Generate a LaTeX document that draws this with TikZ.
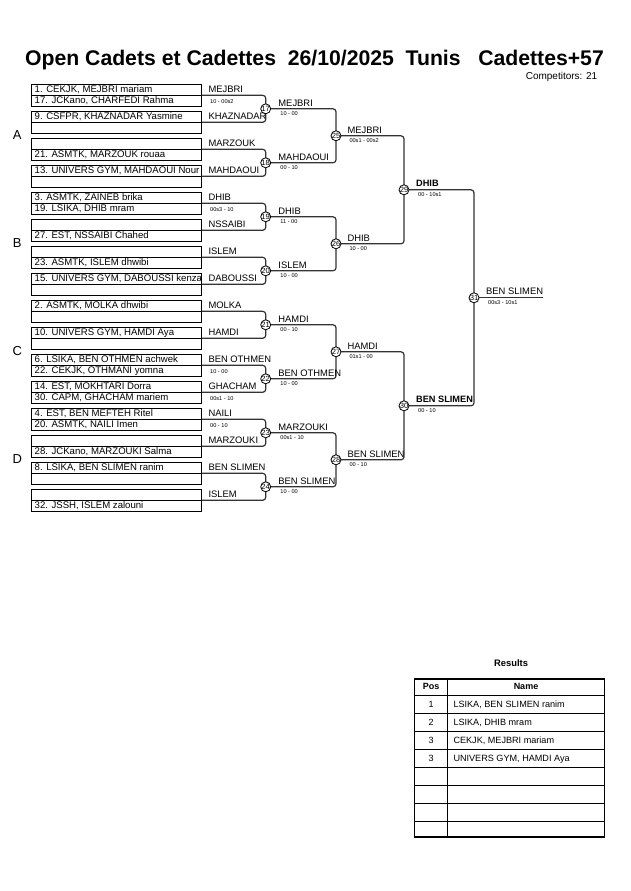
\documentclass[tikz,border=0pt]{standalone}
\usepackage{fontspec}
\setmainfont{Liberation Sans}
\begin{document}
\begin{tikzpicture}[x=1pt,y=-1pt]
\tikzset{
  slotbox/.style={draw=black, line width=0.9pt, minimum width=170pt, minimum height=22pt, inner sep=0pt, outer sep=0pt},
  divider/.style={draw=black, line width=0.9pt},
  brk/.style={draw=black!80, line width=1.2pt, rounded corners=3pt},
  circ/.style={circle, draw=black, fill=white, line width=0.8pt, minimum size=9.6pt, inner sep=0pt, font=\fontsize{7.6}{7.6}\selectfont},
  ptxt/.style={anchor=base west, inner sep=0pt, font=\fontsize{9.6}{10}\selectfont},
  wtxt/.style={anchor=base west, inner sep=0pt, font=\fontsize{9.4}{10}\selectfont},
  wbold/.style={anchor=base west, inner sep=0pt, font=\bfseries\fontsize{9.2}{10}\selectfont},
  stxt/.style={anchor=base west, inner sep=0pt, font=\fontsize{5.6}{6}\selectfont},
  pool/.style={anchor=base, inner sep=0pt, font=\fontsize{13}{14}\selectfont},
  tbl/.style={draw=black, line width=0.8pt},
  tbltxt/.style={anchor=base, inner sep=0pt, font=\fontsize{9}{10}\selectfont},
  tblname/.style={anchor=base west, inner sep=0pt, font=\fontsize{9.1}{10}\selectfont},
  tblhead/.style={anchor=base, inner sep=0pt, font=\bfseries\fontsize{9}{10}\selectfont},
}
\useasboundingbox (0,0) rectangle (630,891);

% title
\node[anchor=base, inner sep=0pt, font=\bfseries\fontsize{21.2}{24}\selectfont] (title) at (314.5,65.7)
  {Open Cadets et Cadettes\ \ 26/10/2025\ \ Tunis\ \ \ Cadettes+57};
\node[anchor=base east, inner sep=0pt, font=\fontsize{10}{11}\selectfont] (comp) at (597.5,79.3) {Competitors: 21};

% pool letters
\foreach \p/\L in {0/A,1/B,2/C,3/D}{
  \node[pool] (pool\L) at (17.3,{139.8+108*\p}) {\L};
}

% first-round slots
\foreach \k/\ra/\rb/\w/\sc in {
  1/{1. CEKJK, MEJBRI mariam}/{17. JCKano, CHARFEDI Rahma}/MEJBRI/{10 - 00s2},
  2/{9. CSFPR, KHAZNADAR Yasmine}/{}/KHAZNADAR/{},
  3/{}/{21. ASMTK, MARZOUK rouaa}/MARZOUK/{},
  4/{13. UNIVERS GYM, MAHDAOUI Nour}/{}/MAHDAOUI/{},
  5/{3. ASMTK, ZAINEB brika}/{19. LSIKA, DHIB mram}/DHIB/{00s3 - 10},
  6/{}/{27. EST, NSSAIBI Chahed}/NSSAIBI/{},
  7/{}/{23. ASMTK, ISLEM dhwibi}/ISLEM/{},
  8/{15. UNIVERS GYM, DABOUSSI kenza}/{}/DABOUSSI/{},
  9/{2. ASMTK, MOLKA dhwibi}/{}/MOLKA/{},
  10/{10. UNIVERS GYM, HAMDI Aya}/{}/HAMDI/{},
  11/{6. LSIKA, BEN OTHMEN achwek}/{22. CEKJK, OTHMANI yomna}/BEN OTHMEN/{10 - 00},
  12/{14. EST, MOKHTARI Dorra}/{30. CAPM, GHACHAM mariem}/GHACHAM/{00s1 - 10},
  13/{4. EST, BEN MEFTEH Ritel}/{20. ASMTK, NAILI Imen}/NAILI/{00 - 10},
  14/{}/{28. JCKano, MARZOUKI Salma}/MARZOUKI/{},
  15/{8. LSIKA, BEN SLIMEN ranim}/{}/BEN SLIMEN/{},
  16/{}/{32. JSSH, ISLEM zalouni}/ISLEM/{}}{
  \pgfmathsetmacro{\t}{84.3+27*(\k-1)}
  \node[slotbox] (slot\k) at (116.7,{\t+11}) {};
  \draw[divider] (slot\k.west) -- (slot\k.east);
  \node[ptxt] (pa\k) at (34.5,{\t+8.6}) {\ra};
  \node[ptxt] (pb\k) at (34.5,{\t+19.6}) {\rb};
  \node[wtxt] (w\k) at (208.3,{\t+8.6}) {\w};
  \node[stxt] (s\k) at (210,{\t+19.4}) {\sc};
}

% match coordinates
\foreach \j in {1,...,8}{
  \pgfmathtruncatemacro{\n}{16+\j}
  \coordinate (c\n) at (265.7,{108.8+54*(\j-1)});
}
\foreach \j in {1,...,4}{
  \pgfmathtruncatemacro{\n}{24+\j}
  \coordinate (c\n) at (336,{135.8+108*(\j-1)});
}
\coordinate (c29) at (404,189.8);
\coordinate (c30) at (404,405.8);
\coordinate (c31) at (474,297.8);
\coordinate (fin) at (542.7,297.8);

% round 1 brackets
\foreach \j in {1,...,8}{
  \pgfmathtruncatemacro{\n}{16+\j}
  \pgfmathtruncatemacro{\a}{2*\j-1}
  \pgfmathtruncatemacro{\b}{2*\j}
  \draw[brk] (slot\a.east) -| (c\n) |- (slot\b.east);
}
% round 2 brackets
\foreach \j in {1,...,4}{
  \pgfmathtruncatemacro{\n}{24+\j}
  \pgfmathtruncatemacro{\a}{15+2*\j}
  \pgfmathtruncatemacro{\b}{16+2*\j}
  \draw[brk] (c\a) -| (c\n) |- (c\b);
}
\draw[brk] (c25) -| (c29) |- (c26);
\draw[brk] (c27) -| (c30) |- (c28);
\draw[brk] (c29) -| (c31) |- (c30);
\draw[brk] (c31) -- (fin);

% circles
\foreach \n in {17,...,31}{
  \node[circ] (m\n) at (c\n) {\n};
}

% round winners
\foreach \n/\w/\sc/\dx in {
  17/MEJBRI/{10 - 00}/12.5, 18/MAHDAOUI/{00 - 10}/12.5, 19/DHIB/{11 - 00}/12.5, 20/ISLEM/{10 - 00}/12.5,
  21/HAMDI/{00 - 10}/12.5, 22/BEN OTHMEN/{10 - 00}/12.5, 23/MARZOUKI/{00s1 - 10}/12.5, 24/BEN SLIMEN/{10 - 00}/12.5,
  25/MEJBRI/{00s1 - 00s2}/11.3, 26/DHIB/{10 - 00}/11.3, 27/HAMDI/{01s1 - 00}/11.3, 28/BEN SLIMEN/{00 - 10}/11.3}{
  \node[wtxt] (rw\n) at ([xshift=\dx pt, yshift=2.8pt]c\n) {\w};
  \node[stxt] (rs\n) at ([xshift=\dx pt+2pt, yshift=-7pt]c\n) {\sc};
}
\node[wbold] (rw29) at ([xshift=12pt, yshift=3.3pt]c29) {DHIB};
\node[stxt] (rs29) at ([xshift=14pt, yshift=-6.5pt]c29) {00 - 10s1};
\node[wbold] (rw30) at ([xshift=12pt, yshift=3.3pt]c30) {BEN SLIMEN};
\node[stxt] (rs30) at ([xshift=14pt, yshift=-6.5pt]c30) {00 - 10};
\node[wtxt] (rw31) at ([xshift=12pt, yshift=3.5pt]c31) {BEN SLIMEN};
\node[stxt] (rs31) at ([xshift=14pt, yshift=-7pt]c31) {00s3 - 10s1};

% results table
\node[anchor=base, inner sep=0pt, font=\bfseries\fontsize{9.4}{10}\selectfont] (results) at (511,666.8) {Results};
\foreach \yy in {695,713,731,749,767,785,803,821}{
  \draw[tbl] (414.5,\yy) -- (604.5,\yy);
}
\draw[tbl] (447.3,679.3) -- (447.3,837.3);
\draw[draw=black, line width=1.8pt] (414.5,679.3) rectangle (604.5,837.3);
\node[tblhead] (hpos) at (431,689.5) {Pos};
\node[tblhead] (hname) at (526,689.5) {Name};
\foreach \i/\p/\nm in {0/1/{LSIKA, BEN SLIMEN ranim},1/2/{LSIKA, DHIB mram},2/3/{CEKJK, MEJBRI mariam},3/3/{UNIVERS GYM, HAMDI Aya}}{
  \node[tbltxt] (tp\i) at (431,{707.5+18*\i}) {\p};
  \node[tblname] (tn\i) at (453.3,{707.5+18*\i}) {\nm};
}
\end{tikzpicture}
\end{document}
